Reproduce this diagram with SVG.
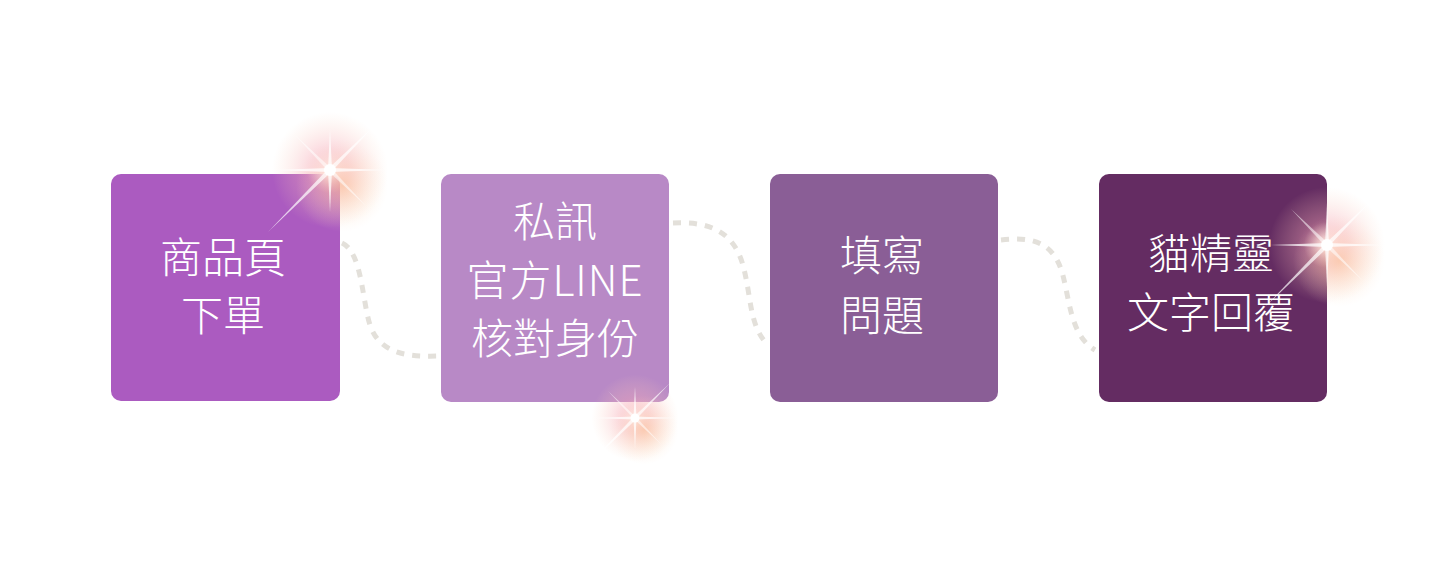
<svg xmlns="http://www.w3.org/2000/svg" width="1440" height="575" viewBox="0 0 1440 575">
<style>
.box{stroke:none}
.t{font-family:"Noto Sans CJK TC","Noto Sans CJK SC",sans-serif;font-size:42px;font-weight:300;fill:#ffffff;text-anchor:middle}
.c{fill:none;stroke:#e3e0da;stroke-width:5;stroke-dasharray:8 8}
.ray{fill:#ffffff}
</style>
<defs>
<radialGradient id="glow" cx="0.5" cy="0.5" r="0.5">
<stop offset="0" stop-color="#ffffff" stop-opacity="1"/>
<stop offset="0.12" stop-color="#fcdde2" stop-opacity="0.9"/>
<stop offset="0.4" stop-color="#f6a8b6" stop-opacity="0.4"/>
<stop offset="1" stop-color="#fbd2b8" stop-opacity="0"/>
</radialGradient>
<radialGradient id="glow2" cx="0.5" cy="0.5" r="0.5">
<stop offset="0" stop-color="#fbc08e" stop-opacity="0.55"/>
<stop offset="1" stop-color="#fde0c8" stop-opacity="0"/>
</radialGradient>
<g id="sparkle">
<circle cx="0" cy="0" r="58" fill="url(#glow)"/>
<circle cx="12" cy="16" r="46" fill="url(#glow2)"/>
<polygon class="ray" points="-58,0 0,-2 58,0 0,2" opacity="0.75"/>
<polygon class="ray" points="0,-42 2,0 0,42 -2,0" opacity="0.75"/>
<polygon class="ray" points="-62,62 -1.6,-1.6 46,-46 1.6,1.6" opacity="0.7"/>
<polygon class="ray" points="-36,-36 1.4,-1.4 36,36 -1.4,1.4" opacity="0.55"/>
<circle cx="0" cy="0" r="6" fill="#ffffff"/>
</g>
</defs>
<rect width="1440" height="575" fill="#ffffff"/>
<g id="connectors">
<path class="c" d="M342,243 C362,252 362,300 370,325 C380,355 410,357 440,356"/>
<path class="c" d="M673,223 C700,222 730,225 742,262 C752,295 748,325 768,345"/>
<path class="c" d="M1001,240 C1030,237 1052,240 1062,272 C1070,300 1070,335 1095,350"/>
</g>
<g id="node1">
<rect class="box" x="111" y="174" width="229" height="227" rx="10" fill="#ab5bc0"/>
<text class="t" x="223" y="273">商品頁</text>
<text class="t" x="223" y="331">下單</text>
</g>
<g id="node2">
<rect class="box" x="441" y="174" width="228" height="228" rx="10" fill="#b889c6"/>
<text class="t" x="555" y="237">私訊</text>
<text class="t" x="555" y="296" letter-spacing="1">官方LINE</text>
<text class="t" x="555" y="354">核對身份</text>
</g>
<g id="node3">
<rect class="box" x="770" y="174" width="228" height="228" rx="10" fill="#8a5e96"/>
<text class="t" x="882" y="271">填寫</text>
<text class="t" x="882" y="331">問題</text>
</g>
<g id="node4">
<rect class="box" x="1099" y="174" width="228" height="228" rx="10" fill="#642c62"/>
<text class="t" x="1211" y="269">貓精靈</text>
<text class="t" x="1211" y="328">文字回覆</text>
</g>
<g id="sparkles">
<use href="#sparkle" transform="translate(330,170)"/>
<use href="#sparkle" transform="translate(635,418) scale(0.75)"/>
<use href="#sparkle" transform="translate(1327,245)"/>
</g>
</svg>
